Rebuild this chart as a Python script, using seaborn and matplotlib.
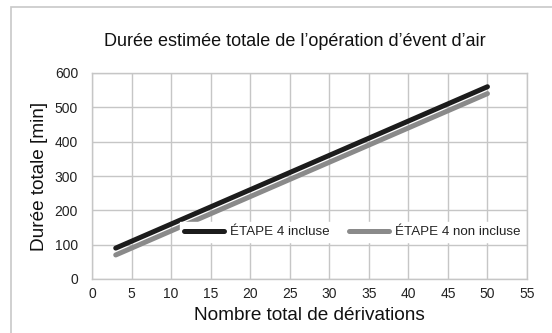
import matplotlib
matplotlib.use("Agg")
import matplotlib.pyplot as plt
import seaborn as sns
import pandas as pd
from matplotlib.patches import Rectangle

# Nombre de dérivations et durées estimées (min)
derivations = [3, 50]
duree_incluse = [90, 560]
duree_non_incluse = [70, 540]
series = ["ÉTAPE 4 incluse", "ÉTAPE 4 non incluse"]
x_ticks = [0, 5, 10, 15, 20, 25, 30, 35, 40, 45, 50, 55]
y_ticks = [0, 100, 200, 300, 400, 500, 600]

df = pd.DataFrame({
    "x": derivations * 2,
    "y": duree_incluse + duree_non_incluse,
    "serie": [series[0]] * len(derivations) + [series[1]] * len(derivations),
})

sns.set_theme(style="white")
plt.rcParams["font.family"] = ["Liberation Sans", "DejaVu Sans"]

fig = plt.figure(figsize=(5.52, 3.33), dpi=100)
ax = fig.add_axes([92 / 552, 1 - 279 / 333, 435 / 552, 206 / 333])

# cadre extérieur du graphique
fig.patches.append(Rectangle((11 / 552, -0.05), 1.2, 1 - 7 / 333 + 0.05,
                             transform=fig.transFigure, fill=False,
                             edgecolor="#c8c8c8", linewidth=1.2, zorder=0))

grid_c = "#c6c6c6"
sns.lineplot(data=df, x="x", y="y", hue="serie",
             palette={series[0]: "#1c1c1c", series[1]: "#8a8a8a"},
             linewidth=3.6, ax=ax, solid_capstyle="round", legend=True)

ax.set_xlim(0, 55)
ax.set_ylim(0, 600)
ax.set_xticks(x_ticks)
ax.set_yticks(y_ticks)
ax.grid(True, color=grid_c, linewidth=1.0)
ax.set_axisbelow(True)
for s in ax.spines.values():
    s.set_color(grid_c)
    s.set_linewidth(1.0)
ax.tick_params(axis="both", length=0, labelsize=10, colors="#222222")
ax.tick_params(axis="x", pad=6)
ax.tick_params(axis="y", pad=10)

ax.set_xlabel("Nombre total de dérivations", fontsize=13.7, color="#111111", labelpad=4)
ax.set_ylabel("Durée totale [min]", fontsize=13.7, color="#111111", labelpad=5)
fig.text(295 / 552, 1 - 42 / 333, "Durée estimée totale de l’opération d’évent d’air",
         fontsize=13, color="#111111", ha="center", va="center")

leg = ax.legend(loc="center", bbox_to_anchor=(0.598, 0.228), ncol=2, frameon=True,
                fontsize=9.6, handlelength=3.0, columnspacing=1.4, handletextpad=0.45,
                borderpad=0.3, fancybox=False)
leg.get_frame().set_facecolor("white")
leg.get_frame().set_edgecolor("white")
leg.get_frame().set_alpha(1.0)
for h in leg.get_lines():
    h.set_linewidth(3.6)
for t in leg.get_texts():
    t.set_color("#222222")

fig.savefig("out.png", dpi=100)
